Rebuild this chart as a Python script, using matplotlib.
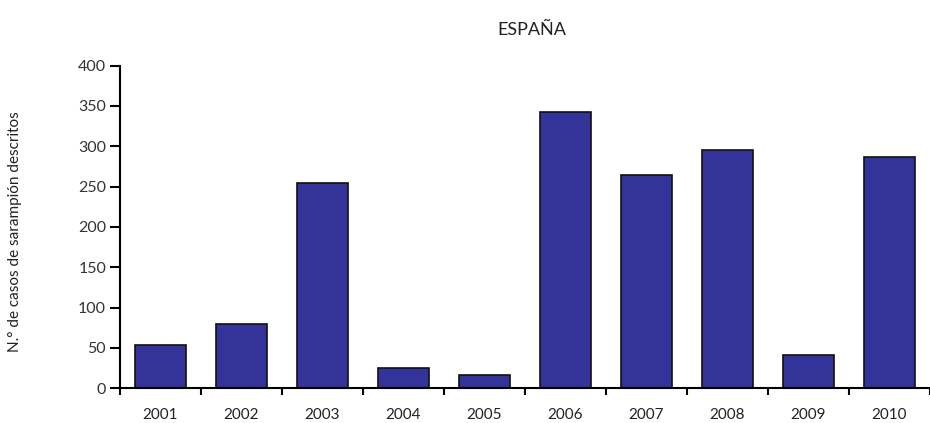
import matplotlib.pyplot as plt
import numpy as np

# Data
years = ["2001", "2002", "2003", "2004", "2005", "2006", "2007", "2008", "2009", "2010"]
cases = [54, 80, 255, 25, 16, 342, 264, 295, 41, 287]
y_ticks = [0, 50, 100, 150, 200, 250, 300, 350, 400]

plt.rcParams['font.family'] = ['Lato', 'DejaVu Sans']

fig = plt.figure(figsize=(9.3, 4.23), dpi=100)
ax = fig.add_axes([120 / 930, (423 - 388.3) / 423, 810 / 930, 322.7 / 423])

x = np.arange(len(years))
ax.bar(x, cases, width=0.62, color='#333399', edgecolor='#111111', linewidth=1.2, zorder=2)

ax.set_xlim(-0.5, 810 / 81.7 - 0.5)
ax.set_ylim(0, 400)
ax.set_yticks(y_ticks)
ax.set_yticklabels([str(v) for v in y_ticks], fontsize=11.5, color='#333333')

# category labels centred, ticks between categories
ax.set_xticks(x)
ax.set_xticklabels(years, fontsize=11, color='#222222')
ax.tick_params(axis='x', which='major', length=0, pad=14)
ax.set_xticks(np.arange(-0.5, len(years), 1), minor=True)
ax.tick_params(axis='x', which='minor', length=5, width=1.5, direction='out')
ax.tick_params(axis='y', length=7, width=1.5, direction='out', pad=3)

ax.spines['top'].set_visible(False)
ax.spines['right'].set_visible(False)
ax.spines['left'].set_linewidth(1.5)
ax.spines['bottom'].set_linewidth(1.5)

fig.text(532 / 930, 1 - 30 / 423, "ESPAÑA", ha='center', va='center', fontsize=13, color='#222222')
fig.text(15 / 930, 1 - 232 / 423, "N.° de casos de sarampión descritos", rotation=90,
         ha='center', va='center', fontsize=11, color='#222222')

fig.savefig("out.png", dpi=100)
